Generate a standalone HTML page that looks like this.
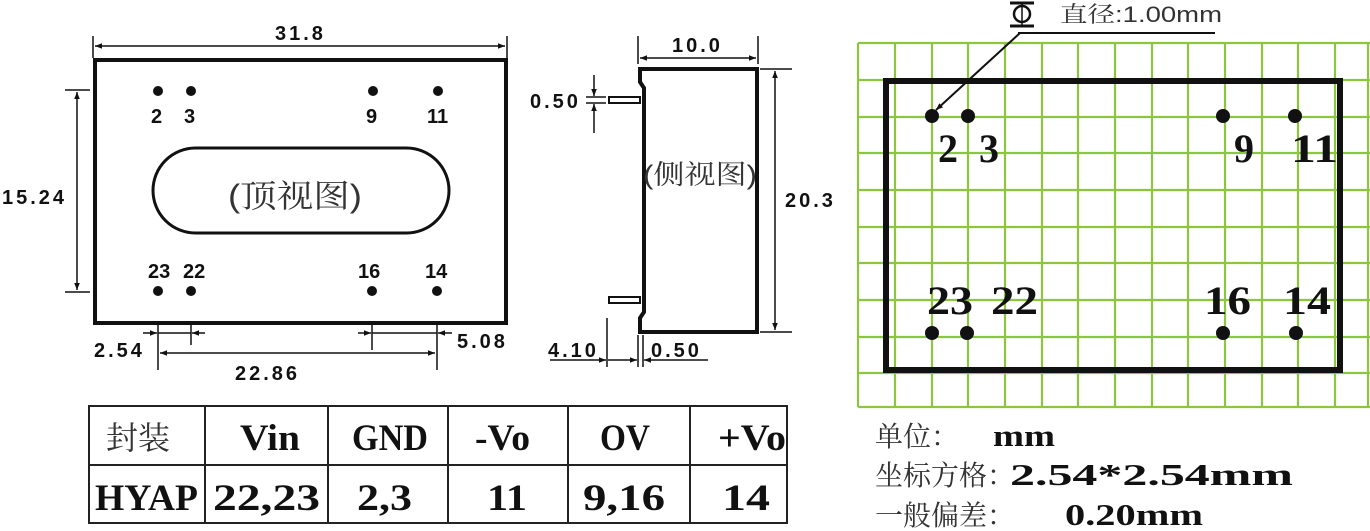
<!DOCTYPE html>
<html><head><meta charset="utf-8"><style>
html,body{margin:0;padding:0;background:#fff;width:1370px;height:531px;overflow:hidden}
svg{display:block}
.d{font-family:"Liberation Sans",sans-serif;font-weight:bold;font-size:20px;letter-spacing:3px;fill:#111}
.p{font-family:"Liberation Sans",sans-serif;font-weight:bold;font-size:20px;fill:#111}
.g{font-family:"Liberation Serif",serif;font-weight:bold;font-size:40px;fill:#111}
.t{font-family:"Liberation Serif",serif;font-weight:bold;font-size:37px;fill:#111}
.b{font-family:"Liberation Serif",serif;font-weight:bold;font-size:31px;fill:#111}
.c{font-family:"Liberation Sans","Noto Serif CJK SC",serif;fill:#333}
</style></head><body>
<svg width="1370" height="531" viewBox="0 0 1370 531" xmlns="http://www.w3.org/2000/svg">
<defs>
<marker id="a" viewBox="0 0 10 10" refX="10" refY="5" markerWidth="9" markerHeight="7" orient="auto-start-reverse" markerUnits="userSpaceOnUse"><path d="M0,1 L10,5 L0,9 z" fill="#111"/></marker>
</defs>
<!-- TOP VIEW -->
<g stroke="#111" fill="none">
<rect x="95" y="60" width="411" height="263" stroke-width="4"/>
<rect x="153" y="148" width="296" height="85" rx="42.5" stroke-width="3"/>
<g stroke-width="1.5">
<line x1="93" y1="36" x2="93" y2="58"/><line x1="507" y1="36" x2="507" y2="58"/>
<line x1="95" y1="46" x2="505" y2="46" marker-start="url(#a)" marker-end="url(#a)"/>
<line x1="65" y1="90" x2="90" y2="90"/><line x1="65" y1="292" x2="90" y2="292"/>
<line x1="77" y1="92" x2="77" y2="290" marker-start="url(#a)" marker-end="url(#a)"/>
<line x1="158" y1="325" x2="158" y2="370"/><line x1="191" y1="325" x2="191" y2="345"/>
<line x1="372" y1="325" x2="372" y2="350"/><line x1="437" y1="325" x2="437" y2="370"/>
<line x1="143" y1="333" x2="157" y2="333" marker-end="url(#a)"/><line x1="158" y1="333" x2="191" y2="333"/><line x1="205" y1="333" x2="192" y2="333" marker-end="url(#a)"/>
<line x1="358" y1="333" x2="371" y2="333" marker-end="url(#a)"/><line x1="372" y1="333" x2="437" y2="333"/><line x1="452" y1="333" x2="438" y2="333" marker-end="url(#a)"/>
<line x1="160" y1="353" x2="435" y2="353" marker-start="url(#a)" marker-end="url(#a)"/>
</g></g>
<g fill="#111">
<circle cx="158" cy="91" r="5"/><circle cx="191" cy="91" r="5"/><circle cx="373" cy="91" r="5"/><circle cx="438" cy="91" r="5"/>
<circle cx="158" cy="291" r="5"/><circle cx="191" cy="291" r="5"/><circle cx="372" cy="291" r="5"/><circle cx="437" cy="291" r="5"/>
</g>
<text class="d" x="275" y="40">31.8</text>
<text class="d" x="2" y="204">15.24</text>
<text class="d" x="94" y="357">2.54</text>
<text class="d" x="457" y="348">5.08</text>
<text class="d" x="235" y="380">22.86</text>
<text class="p" x="151" y="123">2</text><text class="p" x="184" y="123">3</text><text class="p" x="366" y="123">9</text><text class="p" x="427" y="123">11</text>
<text class="p" x="148" y="278">23</text><text class="p" x="183" y="278">22</text><text class="p" x="358" y="278">16</text><text class="p" x="425" y="278">14</text>
<text class="c" x="228" y="207" font-size="32" textLength="134" lengthAdjust="spacingAndGlyphs">(顶视图)</text>
<!-- SIDE VIEW -->
<g stroke="#111" fill="none">
<path d="M640,69 H757 V332 H640 V318 L644,312 V88 L640,82 Z" stroke-width="4"/>
<rect x="609" y="97" width="31" height="6" stroke-width="2"/>
<rect x="609" y="297" width="31" height="6" stroke-width="2"/>
<g stroke-width="1.5">
<line x1="638" y1="36" x2="638" y2="64"/><line x1="758" y1="36" x2="758" y2="64"/>
<line x1="640" y1="58" x2="756" y2="58" marker-start="url(#a)" marker-end="url(#a)"/>
<line x1="760" y1="69" x2="792" y2="69"/><line x1="760" y1="332" x2="792" y2="332"/>
<line x1="775" y1="71" x2="775" y2="330" marker-start="url(#a)" marker-end="url(#a)"/>
<line x1="586" y1="97" x2="606" y2="97"/><line x1="586" y1="103" x2="606" y2="103"/>
<line x1="594" y1="75" x2="594" y2="96" marker-end="url(#a)"/><line x1="594" y1="133" x2="594" y2="104" marker-end="url(#a)"/>
<line x1="607" y1="318" x2="607" y2="367"/><line x1="638" y1="335" x2="638" y2="367"/><line x1="643" y1="335" x2="643" y2="367"/>
<line x1="550" y1="360" x2="606" y2="360" marker-end="url(#a)"/><line x1="608" y1="360" x2="637" y2="360" marker-end="url(#a)"/>
<line x1="708" y1="360" x2="644" y2="360" marker-end="url(#a)"/>
</g></g>
<text class="d" x="672" y="52">10.0</text>
<text class="d" x="530" y="108">0.50</text>
<text class="d" x="785" y="207">20.3</text>
<text class="d" x="548" y="357">4.10</text>
<text class="d" x="651" y="357">0.50</text>
<text class="c" x="643" y="184" font-size="27" textLength="114" lengthAdjust="spacingAndGlyphs">(侧视图)</text>
<!-- GRID -->
<g stroke="#8cc63f" stroke-width="2.2">
<line x1="858" y1="43" x2="858" y2="407"/><line x1="895" y1="43" x2="895" y2="407"/><line x1="932" y1="43" x2="932" y2="407"/><line x1="968" y1="43" x2="968" y2="407"/><line x1="1005" y1="43" x2="1005" y2="407"/><line x1="1042" y1="43" x2="1042" y2="407"/><line x1="1078" y1="43" x2="1078" y2="407"/><line x1="1115" y1="43" x2="1115" y2="407"/><line x1="1152" y1="43" x2="1152" y2="407"/><line x1="1188" y1="43" x2="1188" y2="407"/><line x1="1225" y1="43" x2="1225" y2="407"/><line x1="1262" y1="43" x2="1262" y2="407"/><line x1="1298" y1="43" x2="1298" y2="407"/><line x1="1335" y1="43" x2="1335" y2="407"/><line x1="1368" y1="43" x2="1368" y2="407"/>
<line x1="858" y1="43" x2="1370" y2="43"/><line x1="858" y1="80" x2="1370" y2="80"/><line x1="858" y1="117" x2="1370" y2="117"/><line x1="858" y1="153" x2="1370" y2="153"/><line x1="858" y1="190" x2="1370" y2="190"/><line x1="858" y1="227" x2="1370" y2="227"/><line x1="858" y1="263" x2="1370" y2="263"/><line x1="858" y1="300" x2="1370" y2="300"/><line x1="858" y1="337" x2="1370" y2="337"/><line x1="858" y1="373" x2="1370" y2="373"/><line x1="858" y1="407" x2="1370" y2="407"/>
</g>
<rect x="886" y="81" width="454" height="289" fill="none" stroke="#111" stroke-width="6"/>
<g fill="#111">
<circle cx="932" cy="116" r="7"/><circle cx="968" cy="116" r="7"/><circle cx="1223" cy="116" r="7"/><circle cx="1295" cy="116" r="7"/>
<circle cx="932" cy="333" r="7"/><circle cx="967" cy="333" r="7"/><circle cx="1223" cy="333" r="7"/><circle cx="1296" cy="333" r="7"/>
</g>
<text class="g" x="938" y="162">2</text><text class="g" x="979" y="162">3</text><text class="g" x="1234" y="162">9</text><text class="g" x="1291" y="162" textLength="47" lengthAdjust="spacingAndGlyphs">11</text>
<text class="g" x="927" y="314" textLength="46" lengthAdjust="spacingAndGlyphs">23</text><text class="g" x="991" y="314" textLength="47" lengthAdjust="spacingAndGlyphs">22</text><text class="g" x="1204" y="314" textLength="47" lengthAdjust="spacingAndGlyphs">16</text><text class="g" x="1283" y="314" textLength="48" lengthAdjust="spacingAndGlyphs">14</text>
<!-- diameter annotation -->
<g stroke="#111" fill="none">
<line x1="1010" y1="3" x2="1034" y2="3" stroke-width="3"/>
<line x1="1010" y1="26" x2="1034" y2="26" stroke-width="3"/>
<circle cx="1022" cy="14" r="8" stroke-width="2.5"/>
<line x1="1022" y1="3" x2="1022" y2="27" stroke-width="1.5"/>
<line x1="1018" y1="33" x2="1215" y2="33" stroke-width="2"/>
<line x1="1020" y1="33" x2="936" y2="110" stroke-width="2" marker-end="url(#a)"/>
</g>
<text class="c" x="1060" y="22" font-size="22" textLength="162" lengthAdjust="spacingAndGlyphs">直径:1.00mm</text>
<!-- TABLE -->
<g stroke="#222" stroke-width="2" fill="none">
<rect x="89" y="406" width="698" height="117"/>
<line x1="89" y1="465" x2="787" y2="465"/>
<line x1="205" y1="406" x2="205" y2="523"/><line x1="328" y1="406" x2="328" y2="523"/><line x1="448" y1="406" x2="448" y2="523"/><line x1="568" y1="406" x2="568" y2="523"/><line x1="690" y1="406" x2="690" y2="523"/>
</g>
<text class="c" x="106" y="449" font-size="32">封装</text>
<text class="t" x="240" y="450" textLength="60" lengthAdjust="spacingAndGlyphs">Vin</text>
<text class="t" x="352" y="450" textLength="76" lengthAdjust="spacingAndGlyphs">GND</text>
<text class="t" x="475" y="450" textLength="55" lengthAdjust="spacingAndGlyphs">-Vo</text>
<text class="t" x="600" y="450" textLength="50" lengthAdjust="spacingAndGlyphs">OV</text>
<text class="t" x="718" y="450" textLength="68" lengthAdjust="spacingAndGlyphs">+Vo</text>
<text class="t" x="95" y="510" textLength="103" lengthAdjust="spacingAndGlyphs">HYAP</text>
<text class="t" x="213" y="510" textLength="107" lengthAdjust="spacingAndGlyphs">22,23</text>
<text class="t" x="357" y="510" textLength="55" lengthAdjust="spacingAndGlyphs">2,3</text>
<text class="t" x="487" y="510" textLength="40" lengthAdjust="spacingAndGlyphs">11</text>
<text class="t" x="583" y="510" textLength="82" lengthAdjust="spacingAndGlyphs">9,16</text>
<text class="t" x="722" y="510" textLength="48" lengthAdjust="spacingAndGlyphs">14</text>
<!-- NOTES -->
<text class="c" x="875" y="446" font-size="28">单位：</text>
<text class="b" x="993" y="446" textLength="62" lengthAdjust="spacingAndGlyphs">mm</text>
<text class="c" x="875" y="485" font-size="28">坐标方格：</text>
<text class="b" x="1010" y="485" textLength="283" lengthAdjust="spacingAndGlyphs">2.54*2.54mm</text>
<text class="c" x="875" y="525" font-size="28">一般偏差：</text>
<text class="b" x="1065" y="525" textLength="138" lengthAdjust="spacingAndGlyphs">0.20mm</text>
</svg>
</body></html>
